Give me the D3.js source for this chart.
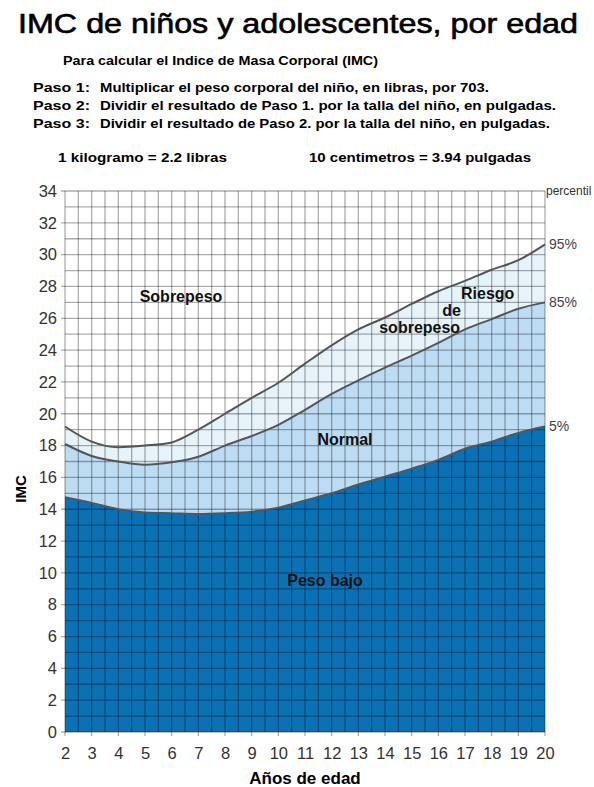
<!DOCTYPE html>
<html><head><meta charset="utf-8">
<script src="https://cdn.jsdelivr.net/npm/d3@7"></script>
<style>body{margin:0;background:#fff}svg{display:block}text{font-family:"Liberation Sans",Arial,sans-serif}</style>
</head><body><div id="c"></div>
<script>
const ages = [2,3,4,5,6,7,8,9,10,11,12,13,14,15,16,17,18,19,20];
const p5  = [14.75,14.4,14.0,13.8,13.75,13.7,13.75,13.85,14.1,14.55,15.0,15.55,16.05,16.55,17.1,17.8,18.25,18.8,19.2];
const p85 = [18.1,17.35,17.0,16.8,16.95,17.3,18.0,18.6,19.3,20.25,21.25,22.1,22.9,23.65,24.45,25.3,25.95,26.6,27.0];
const p95 = [19.2,18.25,17.9,18.0,18.2,19.0,20.0,21.0,21.95,23.15,24.3,25.3,26.05,26.9,27.7,28.35,29.05,29.65,30.65];
const yTicks = d3.range(0,35,2);
const xTicks = d3.range(2,21,1);
const pctLabels = ["95%","85%","5%"];
const zoneLabels = [
  {t:"Sobrepeso", age:6.35, v:27.4},
  {t:"Riesgo", age:17.85, v:27.55},
  {t:"de", age:16.5, v:26.5},
  {t:"sobrepeso", age:15.3, v:25.4},
  {t:"Normal", age:12.5, v:18.4},
  {t:"Peso bajo", age:11.75, v:9.55}
];

const W=594,H=787;
const svg=d3.select("#c").append("svg").attr("width",W).attr("height",H);
const x=d3.scaleLinear().domain([2,20]).range([65,545]);
const y=d3.scaleLinear().domain([0,34]).range([732,191]);
const data=ages.map((a,i)=>({a,p5:p5[i],p85:p85[i],p95:p95[i]}));
const cv=d3.curveMonotoneX;

// title + texts
svg.append("text").attr("x",18).attr("y",33).attr("font-size",27).attr("stroke","#000").attr("stroke-width",0.6).attr("textLength",560).attr("lengthAdjust","spacingAndGlyphs").text("IMC de niños y adolescentes, por edad");
svg.append("text").attr("x",63).attr("y",65).attr("font-size",13).attr("font-weight","bold").attr("textLength",315).attr("lengthAdjust","spacingAndGlyphs").text("Para calcular el Indice de Masa Corporal (IMC)");
const pasos=[["Paso 1:","Multiplicar el peso corporal del niño, en libras, por 703.",389],
             ["Paso 2:","Dividir el resultado de Paso 1. por la talla del niño, en pulgadas.",456],
             ["Paso 3:","Dividir el resultado de Paso 2. por la talla del niño, en pulgadas.",450]];
pasos.forEach((p,i)=>{
  const yy=92+i*18;
  svg.append("text").attr("x",33).attr("y",yy).attr("font-size",12).attr("font-weight","bold").attr("textLength",57).attr("lengthAdjust","spacingAndGlyphs").text(p[0]);
  svg.append("text").attr("x",100).attr("y",yy).attr("font-size",12).attr("font-weight","bold").attr("textLength",p[2]).attr("lengthAdjust","spacingAndGlyphs").text(p[1]);
});
svg.append("text").attr("x",58).attr("y",162).attr("font-size",12).attr("font-weight","bold").attr("textLength",169).attr("lengthAdjust","spacingAndGlyphs").text("1 kilogramo = 2.2 libras");
svg.append("text").attr("x",309).attr("y",162).attr("font-size",12).attr("font-weight","bold").attr("textLength",222).attr("lengthAdjust","spacingAndGlyphs").text("10 centimetros = 3.94 pulgadas");

// areas
svg.append("path").datum(data).attr("fill","#0a72b4").attr("d",d3.area().curve(cv).x(d=>x(d.a)).y0(y(0)).y1(d=>y(d.p5)));
svg.append("path").datum(data).attr("fill","#bcdcf3").attr("d",d3.area().curve(cv).x(d=>x(d.a)).y0(d=>y(d.p5)).y1(d=>y(d.p85)));
svg.append("path").datum(data).attr("fill","#e6f4fa").attr("d",d3.area().curve(cv).x(d=>x(d.a)).y0(d=>y(d.p85)).y1(d=>y(d.p95)));

// grid
const g=svg.append("g").attr("stroke","#000").attr("stroke-opacity",0.32).attr("stroke-width",1.3);
d3.range(0,35,1).forEach(v=>g.append("line").attr("x1",x(2)-(v%2===0?4:0)).attr("x2",x(20)).attr("y1",y(v)).attr("y2",y(v)));
d3.range(2,20.01,0.5).forEach(a=>g.append("line").attr("x1",x(a)).attr("x2",x(a)).attr("y1",y(34)).attr("y2",y(0)+(a%1===0?4:0)));

// curves
["p5","p85","p95"].forEach(k=>{
  svg.append("path").datum(data).attr("fill","none").attr("stroke","#555").attr("stroke-width",2)
    .attr("d",d3.line().curve(cv).x(d=>x(d.a)).y(d=>y(d[k])));
});

// axes labels
const ya=svg.append("g").attr("transform",`translate(${x(2)-8},0)`).call(d3.axisLeft(y).tickValues(yTicks).tickSize(0).tickPadding(0));
ya.select(".domain").remove();
ya.selectAll("text").attr("font-size",16.5).attr("fill","#333").attr("font-family","Liberation Sans, Arial, sans-serif");
const xa=svg.append("g").attr("transform",`translate(0,${y(0)+11})`).call(d3.axisBottom(x).tickValues(xTicks).tickSize(0).tickPadding(4));
xa.select(".domain").remove();
xa.selectAll("text").attr("font-size",16.5).attr("fill","#333").attr("font-family","Liberation Sans, Arial, sans-serif");

svg.append("text").attr("transform",`translate(26,489) rotate(-90)`).attr("text-anchor","middle").attr("font-size",15).attr("font-weight","bold").text("IMC");
svg.append("text").attr("x",305).attr("y",784).attr("text-anchor","middle").attr("font-size",17).attr("font-weight","bold").text("Años de edad");

// percentile labels
svg.append("text").attr("x",546).attr("y",195).attr("font-size",12).attr("fill","#333").text("percentil");
const lastVals=[p95[p95.length-1],p85[p85.length-1],p5[p5.length-1]];
pctLabels.forEach((t,i)=>{
  svg.append("text").attr("x",x(20)+4).attr("y",y(lastVals[i])+5).attr("font-size",14).attr("fill","#444").text(t);
});

// zone labels
zoneLabels.forEach(z=>{
  svg.append("text").attr("x",x(z.age)).attr("y",y(z.v)).attr("dy","0.35em").attr("text-anchor","middle").attr("font-size",16).attr("font-weight","bold").attr("fill","#111").text(z.t);
});
</script></body></html>
